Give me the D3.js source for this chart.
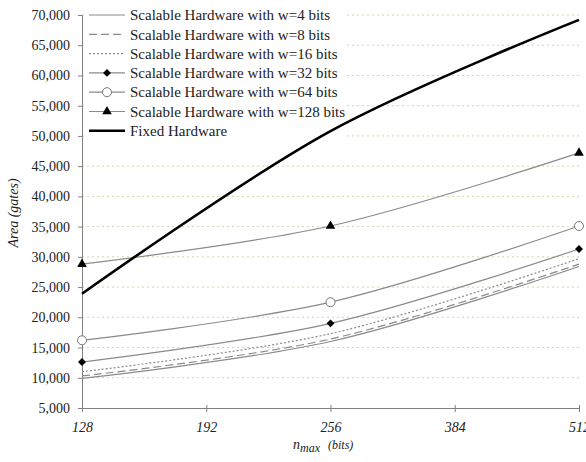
<!DOCTYPE html>
<html>
<head>
<meta charset="utf-8">
<script src="https://cdn.jsdelivr.net/npm/d3@7"></script>
<style>
  body { margin: 0; background: #fff; }
</style>
</head>
<body>
<svg id="chart"></svg>
<script>
// Categories on the x axis and the n_max values that have data
const nmaxTicks = [128, 192, 256, 384, 512];
const nmaxData = [128, 256, 512];

// Area (gates) for each design
const w4 = [9900, 16000, 28400];
const w8 = [10300, 16400, 28800];
const w16 = [11000, 17300, 29700];
const w32 = [12600, 19000, 31300];
const w64 = [16200, 22500, 35100];
const w128 = [28800, 35100, 47200];
const fixedHw = [23900, 50800, 69200];

const seriesNames = [
  "Scalable Hardware with w=4 bits",
  "Scalable Hardware with w=8 bits",
  "Scalable Hardware with w=16 bits",
  "Scalable Hardware with w=32 bits",
  "Scalable Hardware with w=64 bits",
  "Scalable Hardware with w=128 bits",
  "Fixed Hardware"
];
const yTicks = d3.range(5000, 70001, 5000);

let series = [
  {name: seriesNames[0], values: w4, dash: null, marker: null},
  {name: seriesNames[1], values: w8, dash: "8,4", marker: null},
  {name: seriesNames[2], values: w16, dash: "2,2", marker: null},
  {name: seriesNames[3], values: w32, dash: null, marker: "diamond"},
  {name: seriesNames[4], values: w64, dash: null, marker: "circle"},
  {name: seriesNames[5], values: w128, dash: null, marker: "triangle"},
  {name: seriesNames[6], values: fixedHw, dash: null, marker: null, fixed: true}
];

const W = 586, H = 462;
const serif = "Liberation Serif";
const ink = "#222";
let margin = {top: 15, right: 7, bottom: 54, left: 82},
    width = W - margin.left - margin.right,
    height = H - margin.top - margin.bottom;

let svg = d3.select("#chart")
    .attr("width", W)
    .attr("height", H)
    .attr("font-family", serif);

let g = svg.append("g")
    .attr("transform", "translate(" + margin.left + "," + margin.top + ")");

let x = d3.scalePoint().domain(nmaxTicks).range([0, width]);
let y = d3.scaleLinear().domain([5000, 70000]).range([height, 0]);

// dotted grid lines
g.append("g").selectAll("line")
    .data(yTicks.slice(1))
    .join("line")
    .attr("x1", 0).attr("x2", width)
    .attr("y1", d => y(d)).attr("y2", d => y(d))
    .attr("stroke", "#d4d4a8")
    .attr("stroke-width", 1)
    .attr("stroke-dasharray", "2,3");

// y axis
let yAxis = g.append("g")
    .call(d3.axisLeft(y).tickValues(yTicks).tickFormat(d3.format(",")).tickSize(4).tickPadding(8))
    .attr("font-family", serif)
    .attr("font-size", 14);
yAxis.select(".domain").attr("stroke", "#808080");
yAxis.selectAll(".tick line").attr("stroke", "#808080");
yAxis.selectAll("text").attr("fill", ink).attr("font-family", serif);

// x axis
let xAxis = g.append("g")
    .attr("transform", "translate(0," + height + ")")
    .call(d3.axisBottom(x).tickSizeInner(4).tickSizeOuter(0).tickPadding(10))
    .attr("font-family", serif)
    .attr("font-size", 14);
xAxis.select(".domain").attr("stroke", "#808080");
xAxis.selectAll(".tick line").attr("stroke", "#808080").attr("y1", -3);
xAxis.selectAll("text").attr("fill", ink).attr("font-family", serif).attr("font-style", "italic");

// axis titles
svg.append("text")
    .attr("transform", "translate(18," + 213 + ") rotate(-90)")
    .attr("text-anchor", "middle")
    .attr("font-family", serif)
    .attr("font-size", 14)
    .attr("font-style", "italic")
    .attr("fill", ink)
    .text("Area (gates)");

let xt = svg.append("text")
    .attr("x", 293).attr("y", 449)
    .attr("font-family", serif)
    .attr("font-size", 14)
    .attr("font-style", "italic")
    .attr("fill", ink);
xt.append("tspan").text("n");
xt.append("tspan").attr("dy", 3).attr("font-size", 12).text("max");
xt.append("tspan").attr("dy", -3).attr("dx", 8).attr("font-size", 12).text("(bits)");

// legend background covers the grid
g.append("rect")
    .attr("x", 2).attr("y", -11)
    .attr("width", 263).attr("height", 139)
    .attr("fill", "#fff");

let line = d3.line()
    .x((d, i) => x(nmaxData[i]))
    .y(d => y(d))
    .curve(d3.curveCatmullRom.alpha(0.5));

function drawMarker(sel, type) {
  if (type === "diamond") {
    sel.append("path").attr("d", d3.symbol(d3.symbolDiamond2, 40)).attr("fill", "#000");
  } else if (type === "circle") {
    sel.append("circle").attr("r", 4.5).attr("fill", "#fff").attr("stroke", "#777").attr("stroke-width", 1);
  } else if (type === "triangle") {
    sel.append("path").attr("d", d3.symbol(d3.symbolTriangle, 40)).attr("fill", "#000");
  }
}

series.forEach(s => {
  g.append("path")
      .datum(s.values)
      .attr("fill", "none")
      .attr("stroke", s.fixed ? "#000" : "#8a8a8a")
      .attr("stroke-width", s.fixed ? 2.6 : 1.2)
      .attr("stroke-dasharray", s.dash)
      .attr("d", line);
  if (s.marker) {
    g.append("g").selectAll("g")
        .data(s.values)
        .join("g")
        .attr("transform", (d, i) => "translate(" + x(nmaxData[i]) + "," + y(d) + ")")
        .each(function() { drawMarker(d3.select(this), s.marker); });
  }
});

// legend
let legend = g.append("g");
series.forEach((s, i) => {
  let ly = i * 19.3;
  let row = legend.append("g").attr("transform", "translate(0," + ly + ")");
  row.append("line")
      .attr("x1", 7).attr("x2", 43)
      .attr("stroke", s.fixed ? "#000" : "#8a8a8a")
      .attr("stroke-width", s.fixed ? 2.6 : 1.2)
      .attr("stroke-dasharray", s.dash);
  if (s.marker) {
    let m = row.append("g").attr("transform", "translate(25,0)");
    drawMarker(m, s.marker);
  }
  row.append("text")
      .attr("x", 48).attr("y", 0).attr("dy", "0.35em")
      .attr("font-family", serif)
      .attr("font-size", 15)
      .attr("fill", ink)
      .text(s.name);
});
</script>
</body>
</html>
